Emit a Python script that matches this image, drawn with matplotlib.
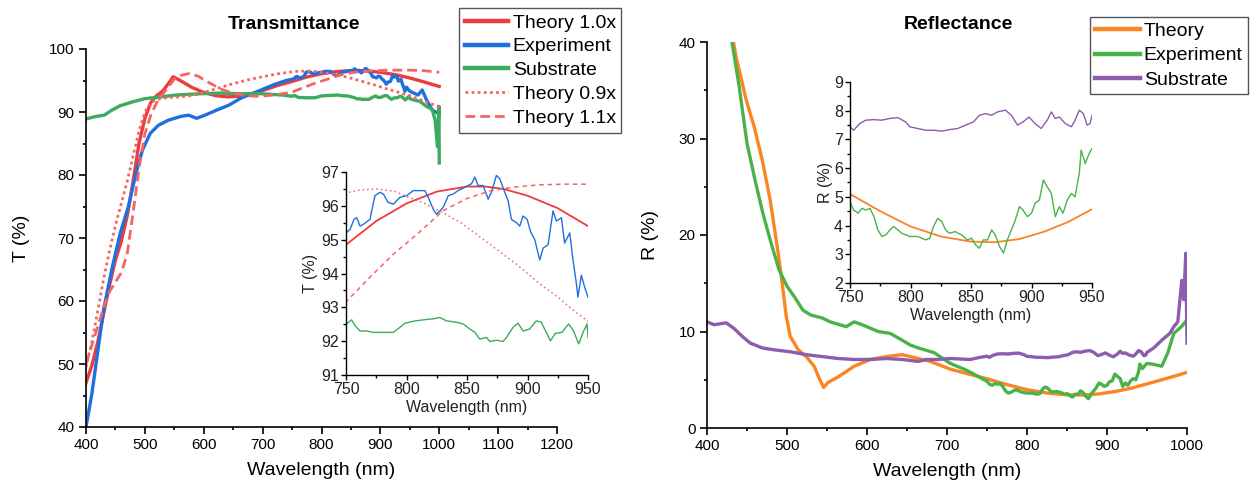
import matplotlib
matplotlib.use("Agg")
import matplotlib.pyplot as plt
from matplotlib.ticker import MultipleLocator

plt.rcParams['font.family'] = ['Liberation Sans', 'DejaVu Sans']

# ---------------- Transmittance data ----------------
wl_t10 = [400, 410, 420, 430, 440, 450, 460, 470, 480, 490, 500, 510, 520, 530, 540, 548,
          560, 580, 600, 620, 640, 660, 680, 700, 725, 750, 775, 800, 825, 850, 865, 880,
          900, 925, 950, 975, 1000]
t_theory10 = [47.0, 49.8, 53.5, 58.0, 62.5, 66.5, 69.5, 73.5, 79.0, 85.0, 89.0, 91.5, 92.6,
              93.3, 94.5, 95.6, 95.0, 93.9, 93.1, 92.6, 92.4, 92.5, 92.9, 93.4, 94.2, 94.85,
              95.55, 96.07, 96.42, 96.57, 96.57, 96.5, 96.3, 95.93, 95.4, 94.75, 94.05]

wl_t09 = [400, 410, 420, 430, 440, 450, 460, 470, 480, 490, 500, 510, 520, 540, 560, 580,
          600, 625, 650, 675, 700, 725, 750, 760, 775, 790, 800, 815, 830, 845, 860, 875,
          890, 910, 925, 940, 950, 975, 1000]
t_theory09 = [49.5, 53.5, 58.5, 63.5, 68.0, 72.0, 75.5, 79.0, 83.0, 87.0, 90.0, 91.5, 92.0,
              92.3, 92.4, 92.6, 93.1, 93.8, 94.5, 95.1, 95.6, 96.05, 96.38, 96.46, 96.5,
              96.43, 96.28, 96.07, 95.8, 95.5, 95.1, 94.7, 94.3, 93.7, 93.3, 92.85, 92.59,
              91.7, 90.8]

wl_t11 = [400, 410, 420, 430, 440, 450, 460, 470, 480, 490, 500, 510, 520, 530, 540, 550,
          560, 575, 590, 610, 630, 650, 670, 690, 710, 730, 750, 770, 790, 810, 830, 850,
          870, 890, 910, 930, 950, 975, 1000]
t_theory11 = [50.0, 53.0, 56.0, 59.0, 61.5, 63.0, 64.5, 67.5, 74.0, 81.0, 86.5, 89.5, 91.5,
              92.8, 94.0, 95.2, 95.8, 96.1, 95.7, 94.6, 93.6, 93.0, 92.6, 92.5, 92.6, 92.85,
              93.16, 93.9, 94.6, 95.2, 95.85, 96.22, 96.45, 96.56, 96.62, 96.64, 96.64,
              96.55, 96.3]

wl_texp = [400, 410, 420, 430, 445, 458, 472, 485, 496, 509, 523, 540, 561, 574, 588, 602,
           622, 643, 663, 690, 718, 740,
           750, 753.3, 756.6, 758.8, 761.6, 764.3, 769.8, 773.9, 778.1, 780.8, 784.9, 789.1,
           794.6, 800.1, 805.6, 811.1, 815.2, 818.0, 822.1, 824.8, 830.3, 834.5, 838.6,
           842.7, 848.2, 853.7, 856.5, 859.2, 863.3, 867.5, 870.2, 874.3, 877.1, 881.2,
           884.0, 886.7, 890.9, 893.6, 896.3, 899.7, 902.4, 906.0, 910.1, 912.9, 917.0,
           921.1, 923.9, 928.0, 930.7, 934.9, 937.6, 940.4, 941.7, 944.5, 947.2, 950.0,
           964, 971, 978, 988, 998]
t_exp = [40.0, 45.3, 52.0, 58.7, 65.5, 70.7, 75.0, 80.3, 84.0, 86.6, 87.9, 88.7, 89.3, 89.5,
         89.0, 89.5, 90.3, 91.1, 92.2, 93.2, 94.3, 95.0,
         95.2, 95.3, 95.6, 95.65, 95.4, 95.45, 95.6, 96.3, 96.4, 96.35, 96.1, 96.05, 96.25,
         96.3, 96.45, 96.45, 96.45, 96.25, 95.9, 95.75, 95.95, 96.3, 96.35, 96.45, 96.55,
         96.65, 96.85, 96.6, 96.6, 96.2, 96.4, 96.9, 96.8, 96.4, 96.15, 95.6, 95.5, 95.4,
         95.7, 95.6, 95.25, 95.0, 94.4, 94.75, 94.85, 95.85, 95.55, 95.65, 94.9, 95.2, 94.4,
         93.7, 93.3, 93.95, 93.6, 93.3,
         92.7, 93.5, 92.0, 90.3, 89.8]

wl_tsub = [400, 417, 431, 444, 458, 479, 499, 527, 554, 595, 629, 663, 697, 732,
           750, 754.7, 757.4, 761.6, 767.0, 772.6, 780.8, 789.1, 794.6, 798.7, 805.6, 813.8,
           822.1, 827.6, 833.1, 841.3, 846.8, 852.3, 856.5, 860.6, 866.1, 868.8, 874.3,
           879.8, 882.6, 888.1, 892.2, 896.3, 901.8, 907.3, 911.4, 918.9, 923.0, 928.5,
           934.0, 938.1, 942.3, 946.4, 949.2, 950.0,
           957, 967, 978, 988, 993, 997, 999.5, 1000]
t_sub = [88.9, 89.3, 89.5, 90.3, 91.0, 91.6, 92.1, 92.4, 92.7, 92.9, 93.0, 92.9, 92.9, 92.7,
         92.5, 92.63, 92.46, 92.3, 92.3, 92.26, 92.26, 92.26, 92.41, 92.53, 92.59, 92.63,
         92.66, 92.7, 92.6, 92.56, 92.51, 92.36, 92.26, 92.06, 92.11, 91.99, 92.03, 91.99,
         92.11, 92.41, 92.53, 92.3, 92.36, 92.6, 92.56, 92.01, 92.23, 92.26, 92.51, 92.3,
         91.92, 92.3, 92.51, 92.11,
         91.9, 91.7, 90.9, 90.4, 88.7, 84.5, 90.9, 81.9]

# ---------------- Reflectance data ----------------
wl_rth = [432, 436.5, 449, 459, 469, 479, 489, 494, 499, 504, 514, 524, 534, 541, 546, 551,
          564, 584, 604, 624, 644, 654, 679, 704, 729, 750, 775, 800, 825, 850, 870, 890,
          910, 930, 950, 975, 1000]
r_theory = [40.5, 38.4, 34.0, 31.2, 27.8, 23.6, 18.1, 15.0, 11.6, 9.5, 8.1, 7.4, 6.4, 5.0,
            4.2, 4.7, 5.3, 6.4, 7.1, 7.4, 7.6, 7.4, 6.9, 6.1, 5.55, 5.1, 4.5, 3.97, 3.62,
            3.44, 3.42, 3.53, 3.78, 4.12, 4.57, 5.15, 5.76]

wl_rexp = [430, 440, 450, 460, 470, 480, 490, 500, 510, 520, 530, 544, 554, 574, 584, 594,
           614, 629, 644, 654, 664, 684, 704, 724, 740,
           750, 753, 756.6, 759.9, 763.2, 766.5, 769.8, 773, 776.4, 779.7, 783, 786,
           789.5, 792.8, 799.4, 806, 812.6, 815.9, 819, 822.5, 825.8, 829, 832, 837, 842,
           847, 850.5, 853.8, 857, 860, 863.7, 867, 870, 873.6, 876.9, 880, 883.4, 886.7,
           890, 893, 896.6, 900, 903, 906.5, 909.8, 913, 916.4, 919.7, 923, 926, 929.6,
           932.9, 936, 939.5, 941, 944.4, 947.7, 950,
           958, 968.5, 976, 983.5, 993, 1000]
r_exp = [40.6, 35.5, 29.5, 25.7, 22.2, 19.2, 16.4, 14.7, 13.5, 12.2, 11.7, 11.4, 11.0, 10.5,
         11.0, 10.7, 10.0, 9.8, 9.1, 8.6, 8.3, 7.8, 6.7, 6.0, 5.3,
         4.83, 4.54, 4.43, 4.6, 4.54, 4.6, 4.31, 3.85, 3.62, 3.68, 3.85, 3.97, 3.85, 3.73,
         3.62, 3.62, 3.5, 3.56, 3.97, 4.25, 4.14, 3.85, 3.73, 3.79, 3.68, 3.5, 3.56, 3.33,
         3.21, 3.5, 3.5, 3.85, 3.68, 3.27, 3.04, 3.5, 3.85, 4.2, 4.66, 4.54, 4.31, 4.43,
         4.78, 4.89, 5.59, 5.35, 5.12, 4.31, 4.66, 4.43, 4.89, 5.12, 5.0, 5.82, 6.63, 6.16,
         6.51, 6.69,
         6.6, 6.4, 7.8, 9.8, 10.5, 11.2]

wl_rsub = [400, 409, 424, 434, 444, 454, 469, 484, 504, 524, 544, 564, 584, 604, 624, 644,
           664, 674, 689, 704, 729, 740,
           750, 753, 758, 763, 769.8, 776, 783, 789.5, 796, 799.4, 806, 812.6, 819, 826,
           832, 839, 845.6, 852, 857, 862, 867, 872, 878.5, 883.4, 888.4, 893, 898, 903,
           908, 913, 916.4, 919.7, 923, 928, 932.9, 936, 939.5, 942.8, 946, 948.4, 950,
           958.5, 968.5, 978.5, 983.5, 988.5, 993.5, 996, 998.5, 1000]
r_sub = [11.0, 10.7, 10.9, 10.3, 9.5, 8.8, 8.3, 8.1, 7.9, 7.6, 7.4, 7.2, 7.1, 7.1, 7.2, 7.1,
         6.9, 7.1, 7.1, 7.2, 7.1, 7.3,
         7.44, 7.32, 7.55, 7.67, 7.69, 7.67, 7.73, 7.76, 7.61, 7.44, 7.38, 7.32, 7.32, 7.29,
         7.34, 7.38, 7.5, 7.61, 7.84, 7.9, 7.84, 7.96, 8.02, 7.84, 7.5, 7.61, 7.78, 7.55,
         7.38, 7.67, 7.96, 7.73, 7.78, 7.55, 7.44, 7.67, 8.02, 7.9, 7.5, 7.55, 7.84,
         8.3, 9.1, 9.8, 10.5, 11.0, 15.3, 13.3, 18.1, 8.8]

# ---------------- styling ----------------
RED = '#EE3B3B'
RED_LIGHT = '#F56464'
BLUE = '#1F6FDE'
GREEN_T = '#3CAB5F'
ORANGE = '#FB8522'
GREEN_R = '#4BB24A'
PURPLE = '#8C5CAE'

W, H = 1257, 493
fig = plt.figure(figsize=(W / 100, H / 100), dpi=100)


def px_axes(x0, y0, x1, y1):
    return fig.add_axes([x0 / W, 1 - y1 / H, (x1 - x0) / W, (y1 - y0) / H])


def style_axes(ax, fs, major_len, minor_len, lw, pad, color='black'):
    for s in ('top', 'right'):
        ax.spines[s].set_visible(False)
    for s in ('left', 'bottom'):
        ax.spines[s].set_linewidth(lw)
    ax.tick_params(which='major', direction='out', length=major_len, width=lw,
                   labelsize=fs, pad=pad, labelcolor=color)
    ax.tick_params(which='minor', direction='out', length=minor_len, width=lw)
    ax.set_facecolor('none')


MAIN_LW = 2.4
INS_LW = 1.0

# ---------------- Transmittance main ----------------
axT = px_axes(86, 49, 557, 427)
axT.plot(wl_t10, t_theory10, color=RED, lw=MAIN_LW, label='Theory 1.0x')
axT.plot(wl_texp, t_exp, color=BLUE, lw=MAIN_LW, label='Experiment')
axT.plot(wl_tsub, t_sub, color=GREEN_T, lw=MAIN_LW, label='Substrate')
axT.plot(wl_t09, t_theory09, color=RED_LIGHT, lw=2.0, ls=(0, (1, 1.2)), label='Theory 0.9x')
axT.plot(wl_t11, t_theory11, color=RED_LIGHT, lw=2.0, ls=(0, (3.5, 1.8)), label='Theory 1.1x')
axT.set_xlim(400, 1200)
axT.set_ylim(40, 100)
axT.xaxis.set_major_locator(MultipleLocator(100))
axT.xaxis.set_minor_locator(MultipleLocator(50))
axT.yaxis.set_major_locator(MultipleLocator(10))
axT.yaxis.set_minor_locator(MultipleLocator(5))
style_axes(axT, 11, 4.7, 2.5, 1.2, 3.5)
axT.set_xlabel('Wavelength (nm)', fontsize=14, labelpad=7)
axT.set_ylabel('T (%)', fontsize=14, labelpad=14)

legT = axT.legend(loc='upper right', bbox_to_anchor=(621.4 / W, 1 - 8.3 / H),
                  bbox_transform=fig.transFigure, fontsize=14, frameon=True,
                  fancybox=False, framealpha=1, edgecolor='#555555',
                  borderpad=0.29, labelspacing=0.32, handlelength=2.2,
                  handletextpad=0.25, borderaxespad=0)
legT.get_frame().set_linewidth(1.0)
for ln in legT.get_lines()[:3]:
    ln.set_linewidth(3.2)

fig.text(294.5 / W, 1 - 24.5 / H, 'Transmittance', fontsize=14, fontweight='bold',
         ha='center', va='center')

# ---------------- Transmittance inset ----------------
axTi = px_axes(346, 172, 588, 375)
axTi.plot(wl_t10, t_theory10, color=RED, lw=1.3)
axTi.plot(wl_texp, t_exp, color=BLUE, lw=INS_LW)
axTi.plot(wl_tsub, t_sub, color=GREEN_T, lw=INS_LW)
axTi.plot(wl_t09, t_theory09, color=RED_LIGHT, lw=1.1, ls=(0, (1, 2)))
axTi.plot(wl_t11, t_theory11, color=RED_LIGHT, lw=1.1, ls=(0, (3, 2.5)))
axTi.set_xlim(750, 950)
axTi.set_ylim(91, 97)
axTi.xaxis.set_major_locator(MultipleLocator(50))
axTi.xaxis.set_minor_locator(MultipleLocator(25))
axTi.yaxis.set_major_locator(MultipleLocator(1))
axTi.yaxis.set_minor_locator(MultipleLocator(0.5))
style_axes(axTi, 11.5, 3.5, 2.0, 1.0, 1.5, color='#222222')
axTi.set_xlabel('Wavelength (nm)', fontsize=11.5, labelpad=2, color='#222222')
axTi.set_ylabel('T (%)', fontsize=11.5, labelpad=2, color='#222222')

# ---------------- Reflectance main ----------------
axR = px_axes(707, 42, 1187, 428)
axR.plot(wl_rth, r_theory, color=ORANGE, lw=MAIN_LW, label='Theory')
axR.plot(wl_rexp, r_exp, color=GREEN_R, lw=MAIN_LW, label='Experiment')
axR.plot(wl_rsub, r_sub, color=PURPLE, lw=MAIN_LW, label='Substrate')
axR.set_xlim(400, 1000)
axR.set_ylim(0, 40)
axR.xaxis.set_major_locator(MultipleLocator(100))
axR.xaxis.set_minor_locator(MultipleLocator(50))
axR.yaxis.set_major_locator(MultipleLocator(10))
axR.yaxis.set_minor_locator(MultipleLocator(5))
style_axes(axR, 11, 4.7, 2.5, 1.2, 3.5)
axR.set_xlabel('Wavelength (nm)', fontsize=14, labelpad=7)
axR.set_ylabel('R (%)', fontsize=14, labelpad=14)

legR = axR.legend(loc='upper right', bbox_to_anchor=(1247.7 / W, 1 - 17 / H),
                  bbox_transform=fig.transFigure, fontsize=14, frameon=True,
                  fancybox=False, framealpha=1, edgecolor='#555555',
                  borderpad=0.26, labelspacing=0.37, handlelength=2.3,
                  handletextpad=0.2, borderaxespad=0)
legR.get_frame().set_linewidth(1.0)
for ln in legR.get_lines():
    ln.set_linewidth(3.2)

fig.text(958 / W, 1 - 24.5 / H, 'Reflectance', fontsize=14, fontweight='bold',
         ha='center', va='center')

# ---------------- Reflectance inset ----------------
axRi = px_axes(850, 82, 1092, 283)
axRi.plot(wl_rth, r_theory, color=ORANGE, lw=1.3)
axRi.plot(wl_rexp, r_exp, color=GREEN_R, lw=INS_LW)
axRi.plot(wl_rsub, r_sub, color=PURPLE, lw=INS_LW)
axRi.set_xlim(750, 950)
axRi.set_ylim(2, 9)
axRi.xaxis.set_major_locator(MultipleLocator(50))
axRi.xaxis.set_minor_locator(MultipleLocator(25))
axRi.yaxis.set_major_locator(MultipleLocator(1))
axRi.yaxis.set_minor_locator(MultipleLocator(0.5))
style_axes(axRi, 11.5, 3.5, 2.0, 1.0, 1.5, color='#222222')
axRi.set_xlabel('Wavelength (nm)', fontsize=11.5, labelpad=2, color='#222222')
axRi.set_ylabel('R (%)', fontsize=11.5, labelpad=1, color='#222222')

fig.savefig('out.png', dpi=100)
